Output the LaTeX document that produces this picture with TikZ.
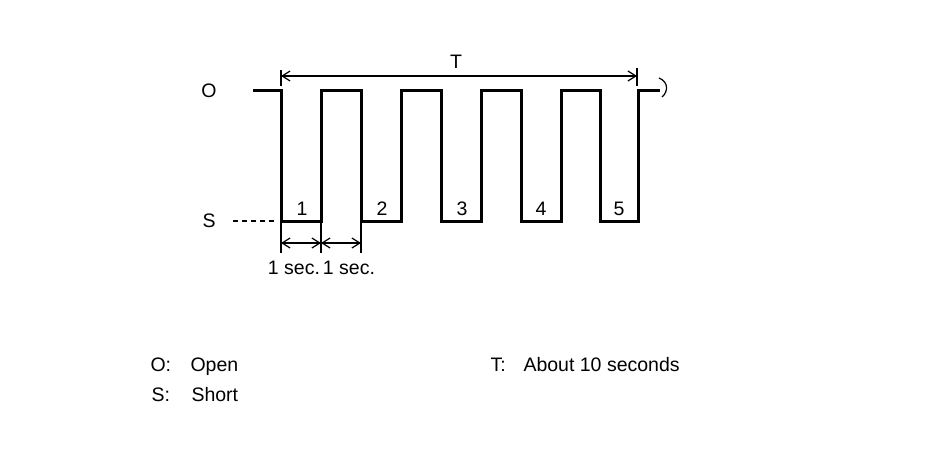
\documentclass[tikz,border=0pt]{standalone}
\usepackage{fontspec}
\setmainfont{Liberation Sans}
\usetikzlibrary{arrows,arrows.meta,calc}

\begin{document}
\begin{tikzpicture}[x=1pt,y=-1pt,font=\fontsize{19.5}{22}\selectfont,
		wave/.style={line width=3pt,line join=miter},
		dim/.style={line width=1.2pt},
		>={Straight Barb[length=8pt,width=10pt,line width=1.2pt]}]
		\useasboundingbox (0,0) rectangle (928,450);
		\path (209, 91) node (lo) {O}
  		(209, 221) node (ls) {S}
  		(456, 62) node (lt) {T}
  		(302, 209) node (n1) {1}
  		(382, 209) node (n2) {2}
  		(462, 209) node (n3) {3}
  		(541, 209) node (n4) {4}
  		(619, 209) node (n5) {5}
  		(294, 268) node (s1) {1 sec.}
  		(349, 268) node (s2) {1 sec.}
  		(147, 371) node[anchor=base west] (ko) {O:}
  		(187, 371) node[anchor=base west] (vo) {Open}
  		(148, 401) node[anchor=base west] (ks) {S:}
  		(188, 401) node[anchor=base west] (vs) {Short}
  		(487, 371) node[anchor=base west] (kt) {T:}
  		(520, 371) node[anchor=base west] (vt) {About 10 seconds};

		% signal
		\draw[wave] (253,90) -- (281,90) -- (281,221) -- (321,221)
			-- (321,90) -- (361,90) -- (361,221) -- (401,221)
			-- (401,90) -- (441,90) -- (441,221) -- (481,221)
			-- (481,90) -- (521,90) -- (521,221) -- (561,221)
			-- (561,90) -- (600,90) -- (600,221) -- (638,221)
			-- (638,90) -- (660,90);
		\draw[dim] (659,78) .. controls (669,82) and (668,92) .. (662,97);
		\draw[dim,dash pattern=on 5pt off 4pt] (ls.east) ++(14,0) -- (278,221);

		% period T
		\coordinate (ta) at (281,76);
		\coordinate (tb) at (637,76);
		\draw[dim] (281,70) -- (281,86);
		\draw[dim] (637,68) -- (637,86);
		\draw[dim,<->] (ta) -- (tb);

		% 1 sec. steps
		\coordinate (da) at (281,243);
		\coordinate (db) at (321,243);
		\coordinate (dc) at (361,243);
		\foreach \x in {281,321,361}
			\draw[dim] (\x,221) -- (\x,253);
		\draw[dim,<->] (da) -- (db);
		\draw[dim,<->] (db) -- (dc);
	\end{tikzpicture}
\end{document}
